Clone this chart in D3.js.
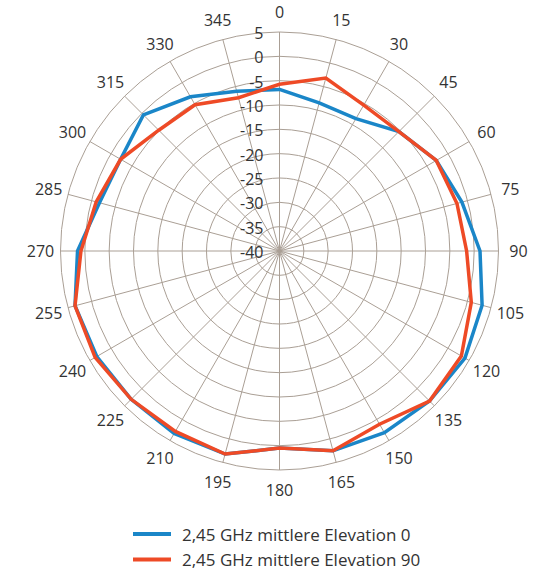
<!DOCTYPE html>
<html>
<head>
<meta charset="utf-8">
<script src="https://cdn.jsdelivr.net/npm/d3@7"></script>
<style>
  html, body { margin: 0; padding: 0; background: #fff; }
  svg { display: block; font-family: "Open Sans", sans-serif; }
</style>
</head>
<body>
<svg id="chart" width="542" height="571"></svg>
<script>
// Antenna radiation pattern, dB per azimuth angle
const angles = [0, 15, 30, 45, 60, 75, 90, 105, 120, 135, 150, 165, 180, 195, 210, 225, 240, 255, 270, 285, 300, 315, 330, 345];
const elevation0 = [-6.8, -8.5, -8.6, -5.3, -2.8, -1.2, 1.2, 3.1, 4.0, 3.6, 3.1, 2.5, 0.5, 3.2, 3.3, 3.1, 3.35, 3.5, 1.5, -1.7, -2.3, -0.45, -3.4, -6.0];
const elevation90 = [-5.75, -3.2, -5.4, -5.3, -2.8, -2.25, -1.55, 0.8, 3.15, 3.6, 1.1, 2.5, 0.5, 3.2, 2.8, 3.1, 3.75, 3.5, 0.8, -1.0, -2.3, -4.9, -5.3, -7.4];
const radialTicks = [-40, -35, -30, -25, -20, -15, -10, -5, 0, 5];
const seriesNames = ["2,45 GHz mittlere Elevation 0", "2,45 GHz mittlere Elevation 90"];
const seriesColors = ["#1a86c8", "#ee4a26"];

const svg = d3.select("#chart");
const cx = 279.5, cy = 251, R = 219;
const gridColor = "#aa9f95";
const textColor = "#333";

const r = d3.scaleLinear().domain([-40, 5]).range([0, R]);
const a = d3.scaleLinear().domain([0, 360]).range([0, 2 * Math.PI]);

const g = svg.append("g").attr("transform", `translate(${cx},${cy})`);

// Concentric rings
g.selectAll("circle.ring").data(radialTicks.slice(1)).join("circle")
  .attr("class", "ring")
  .attr("r", d => r(d))
  .attr("fill", "none")
  .attr("stroke", gridColor)
  .attr("stroke-width", 1);

// Spokes
g.selectAll("line.spoke").data(angles).join("line")
  .attr("class", "spoke")
  .attr("x1", 0).attr("y1", 0)
  .attr("x2", d => R * Math.sin(a(d)))
  .attr("y2", d => -R * Math.cos(a(d)))
  .attr("stroke", gridColor)
  .attr("stroke-width", 1);

// Angle labels
const labelR = R + 20;
g.selectAll("text.angle").data(angles).join("text")
  .attr("class", "angle")
  .attr("x", d => labelR * Math.sin(a(d)))
  .attr("y", d => -labelR * Math.cos(a(d)))
  .attr("text-anchor", "middle")
  .attr("dominant-baseline", "central")
  .attr("font-size", 16)
  .attr("fill", textColor)
  .text(d => d);

// Radial tick labels
g.selectAll("text.rtick").data(radialTicks).join("text")
  .attr("class", "rtick")
  .attr("x", -16)
  .attr("y", d => -r(d) + 1)
  .attr("text-anchor", "end")
  .attr("dominant-baseline", "central")
  .attr("font-size", 16)
  .attr("fill", textColor)
  .text(d => d);

// Pattern curves
const line = d3.lineRadial()
  .angle(d => a(d[0]))
  .radius(d => r(d[1]))
  .curve(d3.curveLinearClosed);

[elevation0, elevation90].forEach((vals, i) => {
  g.append("path")
    .datum(angles.map((ang, k) => [ang, vals[k]]))
    .attr("d", line)
    .attr("fill", "none")
    .attr("stroke", seriesColors[i])
    .attr("stroke-width", 3.5)
    .attr("stroke-linejoin", "miter");
});

// Legend
const legend = svg.append("g").attr("transform", "translate(133,534)");
seriesNames.forEach((name, i) => {
  const row = legend.append("g").attr("transform", `translate(0,${i * 25.5})`);
  row.append("line")
    .attr("x1", 0).attr("x2", 38).attr("y1", 0).attr("y2", 0)
    .attr("stroke", seriesColors[i]).attr("stroke-width", 4);
  row.append("text")
    .attr("x", 49).attr("y", 0)
    .attr("dominant-baseline", "central")
    .attr("font-size", 17)
    .attr("fill", textColor)
    .text(name);
});
</script>
</body>
</html>
